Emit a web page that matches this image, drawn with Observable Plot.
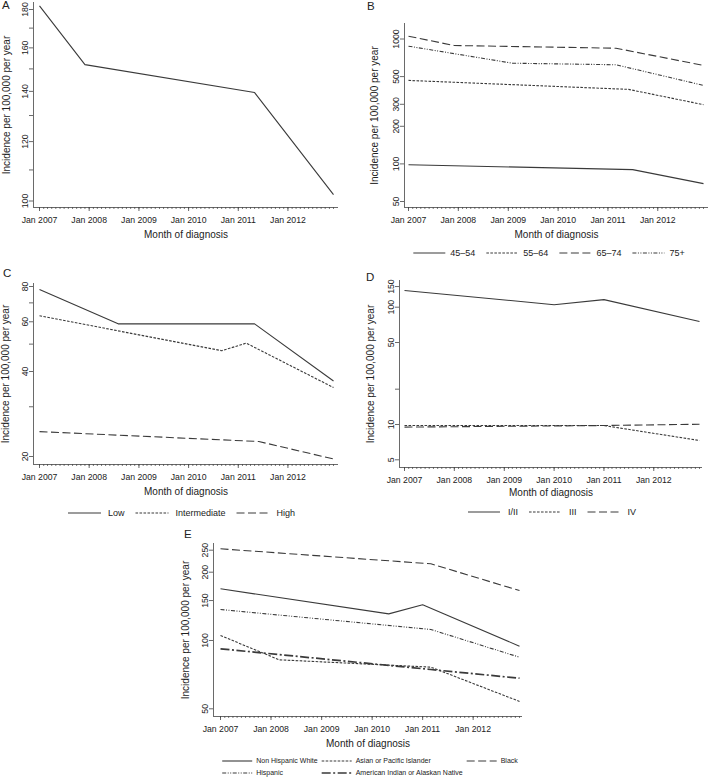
<!DOCTYPE html>
<html><head><meta charset="utf-8">
<script src="https://cdn.jsdelivr.net/npm/d3@7"></script>
<script src="https://cdn.jsdelivr.net/npm/@observablehq/plot@0.6"></script>
<style>
body{margin:0;background:#fff;}
#wrap{position:relative;width:709px;height:778px;overflow:hidden;font-family:"Liberation Sans",Arial,Helvetica,sans-serif;color:#222;}
.panel{position:absolute;}
</style></head><body><div id="wrap"></div>
<script>
// ---------- shared axis text ----------
const xTickDates = ["2007-01","2008-01","2009-01","2010-01","2011-01","2012-01"];
const xTickLabels = ["Jan 2007","Jan 2008","Jan 2009","Jan 2010","Jan 2011","Jan 2012"];
const firstMonth = "2007-01", lastMonth = "2012-12";
const xTitle = "Month of diagnosis";
const yTitle = "Incidence per 100,000 per year";

// ---------- Panel A (overall) ----------
const aSeries = ["All"];
const aDates = ["2007-01","2007-12","2011-05","2012-12"];
const aValues = [182, 152, 139.5, 102];
const aYTicks = [100, 120, 140, 160, 180];
const aYMinor = [110, 130, 150, 170];

// ---------- Panel B (age) ----------
const bSeries = ["45–54","55–64","65–74","75+"];
const b4554Dates = ["2007-01","2011-07","2012-12"];
const b4554Values = [98.5, 90, 69.5];
const b5564Dates = ["2007-01","2011-06","2012-12"];
const b5564Values = [466, 395, 298];
const b6574Dates = ["2007-01","2007-12","2011-03","2012-12"];
const b6574Values = [1053, 887, 844, 614];
const b75Dates = ["2007-01","2009-02","2011-03","2012-12"];
const b75Values = [876, 640, 622, 425];
const bYTicks = [50, 100, 200, 300, 500, 1000];

// ---------- Panel C (grade) ----------
const cSeries = ["Low","Intermediate","High"];
const cLowDates = ["2007-01","2008-08","2011-05","2012-12"];
const cLowValues = [78, 59, 59, 37];
const cIntDates = ["2007-01","2010-09","2011-03","2012-12"];
const cIntValues = [63, 47.4, 50.4, 35.1];
const cHighDates = ["2007-01","2011-06","2012-12"];
const cHighValues = [24.5, 22.6, 19.6];
const cYTicks = [20, 40, 60, 80];
const cYMinor = [30, 50, 70];

// ---------- Panel D (stage) ----------
const dSeries = ["I/II","III","IV"];
const d12Dates = ["2007-01","2010-01","2011-01","2012-12"];
const d12Values = [139, 105, 116, 75.5];
const d3Dates = ["2007-01","2011-01","2012-12"];
const d3Values = [9.8, 9.8, 7.3];
const d4Dates = ["2007-01","2011-01","2012-12"];
const d4Values = [9.5, 9.8, 10.05];
const dYTicks = [5, 10, 50, 100, 150];
const dYMinor = [20];

// ---------- Panel E (race / ethnicity) ----------
const eSeries = ["Non Hispanic White","Asian or Pacific Islander","Black","Hispanic","American Indian or Alaskan Native"];
const eNhwDates = ["2007-01","2010-05","2011-01","2012-12"];
const eNhwValues = [169, 131, 143.6, 94.4];
const eApiDates = ["2007-01","2008-03","2011-03","2012-12"];
const eApiValues = [105.2, 82.2, 76.3, 53.9];
const eBlackDates = ["2007-01","2011-03","2012-12"];
const eBlackValues = [253.6, 217.8, 166];
const eHispDates = ["2007-01","2011-03","2012-12"];
const eHispValues = [137, 111.8, 84.4];
const eAianDates = ["2007-01","2011-03","2012-12"];
const eAianValues = [91.9, 74.5, 68.2];
const eYTicks = [50, 100, 150, 200, 250];

// ---------- styles ----------
const lineColor = "#3a3a3a";
const lineTypes = {
  solid:   {dash: null, width: 1.1},
  short:   {dash: "2.6,1.4", width: 1.1},
  long:    {dash: "8,3.5", width: 1.1},
  dotdash: {dash: "4,1.5,1,1.5,1,1.5", width: 1.1},
  longdot: {dash: "9,2.5,2,2.5", width: 1.7}
};

const parseMonth = d3.utcParse("%Y-%m");
const labelByTime = new Map(xTickDates.map((d, i) => [+parseMonth(d), xTickLabels[i]]));
const majorDates = xTickDates.map(parseMonth);
const minorDates = d3.utcMonth.range(parseMonth(firstMonth), d3.utcMonth.offset(parseMonth(lastMonth), 1));
const t0 = +parseMonth(firstMonth), t1 = +parseMonth(lastMonth);

const panels = [
  {id: "A", letterPos: [2, 9], box: [0, 0, 345, 245], frame: [33, 338, 2, 207], x0: 39, x1: 333,
   yRef: [[180, 9], [100, 200.5]], yTicks: aYTicks, yMinor: aYMinor, yTitleDx: -27, xTitleDy: 27,
   series: [{label: aSeries[0], dates: aDates, values: aValues, type: "solid"}], legend: null},
  {id: "B", letterPos: [367, 10], box: [355, 0, 354, 245], frame: [404, 708, 23, 207], x0: 408, x1: 703,
   yRef: [[1000, 38.5], [50, 201]], yTicks: bYTicks, yMinor: [], yTitleDx: -30, xTitleDy: 27,
   series: [
     {label: bSeries[0], dates: b4554Dates, values: b4554Values, type: "solid"},
     {label: bSeries[1], dates: b5564Dates, values: b5564Values, type: "short"},
     {label: bSeries[2], dates: b6574Dates, values: b6574Values, type: "long"},
     {label: bSeries[3], dates: b75Dates, values: b75Values, type: "dotdash"}],
   legend: {cx: 549, y: 253, ncol: 4, fontSize: 9, sample: 32, gap: 5, colGap: 11, rowGap: 12}},
  {id: "C", letterPos: [3, 277], box: [0, 262, 345, 245], frame: [33, 338, 283, 464], x0: 39, x1: 333,
   yRef: [[80, 286], [20, 456]], yTicks: cYTicks, yMinor: cYMinor, yTitleDx: -28, xTitleDy: 27,
   series: [
     {label: cSeries[0], dates: cLowDates, values: cLowValues, type: "solid"},
     {label: cSeries[1], dates: cIntDates, values: cIntValues, type: "short"},
     {label: cSeries[2], dates: cHighDates, values: cHighValues, type: "long"}],
   legend: {cx: 181.5, y: 513, ncol: 3, fontSize: 9, sample: 33, gap: 7, colGap: 11, rowGap: 12}},
  {id: "D", letterPos: [366, 281], box: [355, 262, 354, 245], frame: [399, 702, 280, 467], x0: 404, x1: 699,
   yRef: [[100, 306.7], [5, 459.3]], yTicks: dYTicks, yMinor: dYMinor, yTitleDx: -29, xTitleDy: 25.5,
   series: [
     {label: dSeries[0], dates: d12Dates, values: d12Values, type: "solid"},
     {label: dSeries[1], dates: d3Dates, values: d3Values, type: "short"},
     {label: dSeries[2], dates: d4Dates, values: d4Values, type: "long"}],
   legend: {cx: 552, y: 512, ncol: 3, fontSize: 9, sample: 32, gap: 8, colGap: 11, rowGap: 12}},
  {id: "E", letterPos: [184, 538], box: [170, 525, 370, 225], frame: [213, 522, 543, 716], x0: 220, x1: 519,
   yRef: [[250, 549.7], [50, 708.3]], yTicks: eYTicks, yMinor: [], yTitleDx: -28, xTitleDy: 27,
   series: [
     {label: eSeries[0], dates: eNhwDates, values: eNhwValues, type: "solid"},
     {label: eSeries[1], dates: eApiDates, values: eApiValues, type: "short"},
     {label: eSeries[2], dates: eBlackDates, values: eBlackValues, type: "long"},
     {label: eSeries[3], dates: eHispDates, values: eHispValues, type: "dotdash"},
     {label: eSeries[4], dates: eAianDates, values: eAianValues, type: "longdot"}],
   legend: {cx: 370, y: 761, ncol: 3, fontSize: 7, sample: 30, gap: 4, colGap: 4, rowGap: 12}}
];

const wrap = document.getElementById("wrap");

function xDomainFor(P) {
  const k = (t1 - t0) / (P.x1 - P.x0);
  return [new Date(t0 + (P.frame[0] - P.x0) * k), new Date(t0 + (P.frame[1] - P.x0) * k)];
}
function yDomainFor(P) {
  const [[v1, p1], [v2, p2]] = P.yRef;
  const k = (Math.log10(v1) - Math.log10(v2)) / (p1 - p2);
  const at = p => 10 ** (Math.log10(v1) + (p - p1) * k);
  return [at(P.frame[3]), at(P.frame[2])];
}

for (const P of panels) {
  const [bx, by, bw, bh] = P.box;
  const [fl, fr, ft, fb] = P.frame;
  const xd = xDomainFor(P), yd = yDomainFor(P);
  const lineMarks = P.series.map(s => {
    const rows = s.dates.map((d, i) => ({series: s.label, date: parseMonth(d), value: s.values[i]}));
    const lt = lineTypes[s.type];
    return Plot.line(rows, {x: "date", y: "value", stroke: lineColor, strokeWidth: lt.width,
      strokeDasharray: lt.dash, strokeLinejoin: "round", strokeLinecap: "butt"});
  });
  const chart = Plot.plot({
    width: bw, height: bh,
    marginLeft: fl - bx, marginRight: bx + bw - fr, marginTop: ft - by, marginBottom: by + bh - fb,
    x: {type: "utc", domain: xd, label: null},
    y: {type: "log", domain: yd, label: null},
    style: {fontFamily: "'Liberation Sans', Arial, Helvetica, sans-serif", fontSize: "8.7px", color: "#222", background: "transparent", overflow: "visible"},
    marks: [
      Plot.ruleX([xd[0]], {x: d => d, y1: () => yd[0], y2: () => yd[1], stroke: "#444", strokeWidth: 0.8}),
      Plot.ruleY([yd[0]], {y: d => d, x1: () => xd[0], x2: () => xd[1], stroke: "#444", strokeWidth: 0.8}),
      Plot.axisX({ticks: minorDates, tickSize: 2, tickFormat: () => "", label: null, stroke: "#444", strokeWidth: 0.7}),
      Plot.axisX({ticks: majorDates, tickSize: 4, tickPadding: 5, tickFormat: d => labelByTime.get(+d), label: null, stroke: "#444", strokeWidth: 0.8}),
      Plot.axisY({ticks: P.yTicks, tickSize: 4, tickPadding: 2, tickRotate: -90, tickFormat: d => String(d), label: null, stroke: "#444", strokeWidth: 0.8}),
      ...(P.yMinor.length ? [Plot.axisY({ticks: P.yMinor, tickSize: 4, tickFormat: () => "", label: null, stroke: "#444", strokeWidth: 0.8})] : []),
      Plot.text([yTitle], {frameAnchor: "left", textAnchor: "middle", lineAnchor: "middle", rotate: -90, dx: P.yTitleDx, fontSize: 10, fill: "#222"}),
      Plot.text([xTitle], {frameAnchor: "bottom", textAnchor: "middle", lineAnchor: "middle", dy: P.xTitleDy, fontSize: 10, fill: "#222"}),
      ...lineMarks
    ]
  });
  const div = document.createElement("div");
  div.className = "panel";
  div.style.left = bx + "px";
  div.style.top = by + "px";
  div.appendChild(chart);
  wrap.appendChild(div);
}

// ---------- overlay: panel letters + legends ----------
const overlay = d3.select(wrap).append("svg")
  .attr("width", 709).attr("height", 778)
  .style("position", "absolute").style("left", "0px").style("top", "0px")
  .style("pointer-events", "none")
  .style("font-family", "'Liberation Sans', Arial, Helvetica, sans-serif");

for (const P of panels) {
  overlay.append("text").attr("x", P.letterPos[0]).attr("y", P.letterPos[1])
    .attr("font-size", 11.5).attr("fill", "#222").text(P.id);
  if (!P.legend) continue;
  const L = P.legend;
  const g = overlay.append("g");
  const items = P.series.map(s => {
    const ig = g.append("g");
    const t = ig.append("text").attr("font-size", L.fontSize).attr("fill", "#222")
      .attr("dy", "0.35em").text(s.label);
    const w = t.node().getComputedTextLength();
    return {s, ig, t, width: L.sample + L.gap + w};
  });
  const ncol = L.ncol;
  const colW = d3.range(ncol).map(c => d3.max(items.filter((_, i) => i % ncol === c), d => d.width) + L.colGap);
  const total = d3.sum(colW) - L.colGap;
  const startX = L.cx - total / 2;
  items.forEach((it, i) => {
    const c = i % ncol, r = Math.floor(i / ncol);
    const x = startX + d3.sum(colW.slice(0, c));
    const y = L.y + r * L.rowGap;
    const lt = lineTypes[it.s.type];
    it.ig.append("line").attr("x1", x).attr("x2", x + L.sample).attr("y1", y).attr("y2", y)
      .attr("stroke", lineColor).attr("stroke-width", lt.width)
      .attr("stroke-dasharray", lt.dash);
    it.t.attr("x", x + L.sample + L.gap).attr("y", y);
  });
}
</script></body></html>
